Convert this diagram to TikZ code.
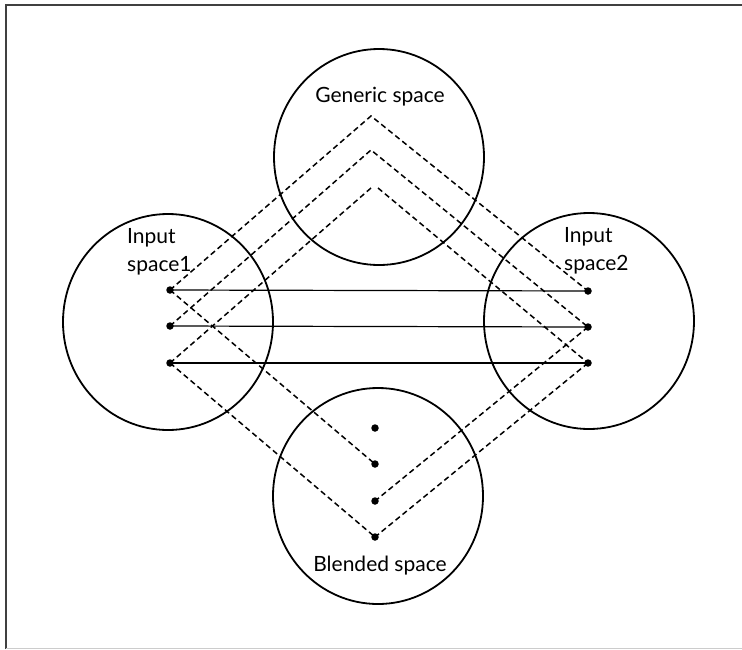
\documentclass[tikz,border=0pt]{standalone}
\usepackage{fontspec}
\setmainfont{Lato}
\usetikzlibrary{shapes.geometric}
\begin{document}
\begin{tikzpicture}[x=1pt,y=-1pt,
  space/.style={draw, ellipse, line width=1.8pt, minimum width=210pt, minimum height=216pt, inner sep=0pt},
  elem/.style={circle, fill, minimum size=7.5pt, inner sep=0pt},
  label/.style={font=\fontsize{21}{28}\selectfont, inner sep=0pt},
  map/.style={dashed, dash pattern=on 5.5pt off 3.5pt, line width=1.5pt},
  link/.style={line width=1.2pt}]
  \useasboundingbox (0,0) rectangle (742,649);
  % frame
  \draw[line width=2pt, black!75] (6,649) -- (6,5) -- (742,5);
  \draw[line width=1pt, black!20] (6,648) -- (742,648);

  % the four spaces
  \node[space] (gen) at (379,157) {};
  \node[space] (in1) at (168,322) {};
  \node[space] (in2) at (589,321) {};
  \node[space] (blend) at (378,496) {};

  % labels
  \node[label] (tgen) at (380,97) {Generic space};
  \node[label, anchor=base west] (tin1a) at (127,243) {Input};
  \node[label, anchor=base west] (tin1b) at (127,271) {space1};
  \node[label, anchor=base west] (tin2a) at (564,242) {Input};
  \node[label, anchor=base west] (tin2b) at (564,270) {space2};
  \node[label] (tblend) at (380,566) {Blended space};

  % elements
  \node[elem] (a1) at (170,290) {};
  \node[elem] (a2) at (170,326) {};
  \node[elem] (a3) at (170,363) {};
  \node[elem] (b1) at (588,291) {};
  \node[elem] (b2) at (588,327) {};
  \node[elem] (b3) at (588,363) {};
  \node[elem] (c1) at (375,428) {};
  \node[elem] (c2) at (375,464) {};
  \node[elem] (c3) at (375,501) {};
  \node[elem] (c4) at (375,537) {};

  % generic structure apexes
  \coordinate (g1) at (371,116);
  \coordinate (g2) at (371,150);
  \coordinate (g3l) at (371,188);
  \coordinate (g3r) at (378,188);

  % cross-space mappings
  \draw[link] (a1.center) -- (b1.center);
  \draw[link] (a2.center) -- (b2.center);
  \draw[link] (a3.center) -- (b3.center);

  % generic space projections
  \draw[map] (a1.center) -- (g1) -- (b1.center);
  \draw[map] (a2.center) -- (g2) -- (b2.center);
  \draw[map] (a3.center) -- (g3l);
  \draw[map] (g3r) -- (b3.center);

  % projections into the blend
  \draw[map] (a1.center) -- (c2.center);
  \draw[map] (a3.center) -- (c4.center);
  \draw[map] (b2.center) -- (c3.center);
  \draw[map] (b3.center) -- (c4.center);
\end{tikzpicture}
\end{document}
